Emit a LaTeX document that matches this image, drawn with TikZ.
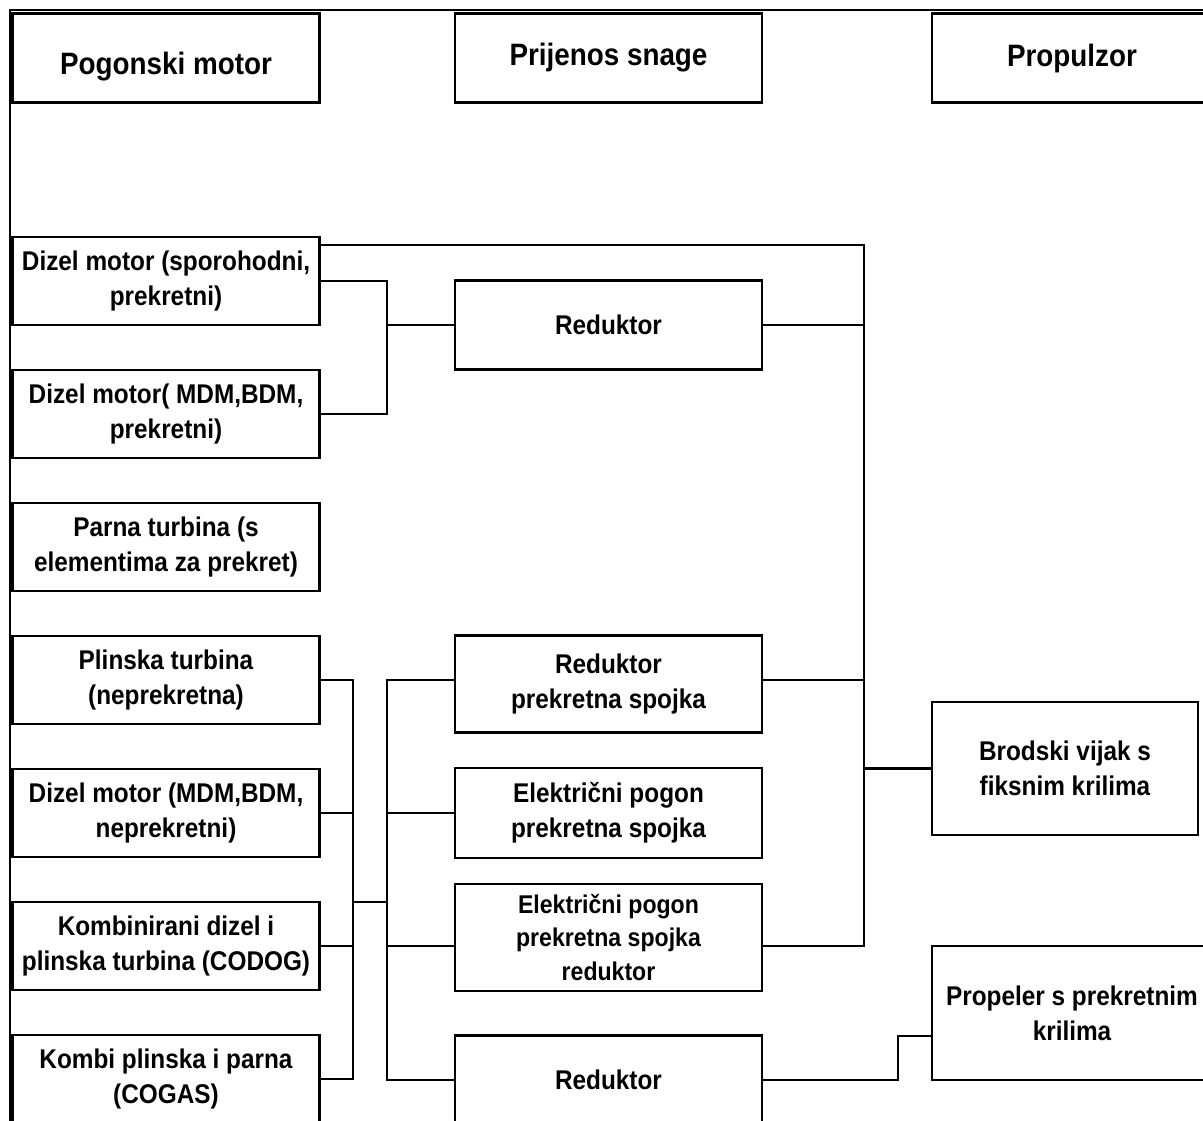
\documentclass[tikz,border=0pt]{standalone}
\usepackage{fontspec}
\newfontfamily\dgfont{Liberation Sans}[FakeStretch=0.9]
\begin{document}
\begin{tikzpicture}[x=0.02cm,y=-0.02cm,
  box/.style={draw, line width=1.4pt, minimum width=6.14cm, minimum height=1.76cm,
    align=center, inner sep=0pt, font=\dgfont\bfseries\fontsize{15.4}{19.8}\selectfont},
  head/.style={box, minimum height=1.78cm, font=\dgfont\bfseries\fontsize{17.6}{21}\selectfont},
  wire/.style={line width=1.3pt}]
\clip (0,0) rectangle (1203,1120);
% frame
\draw[line width=1.2pt] (10,1130) -- (10,10) -- (1215,10);
% headers
\node[head, text height=0.64cm, text depth=0pt] (h1) at (166,58) {Pogonski motor};
\node[head] (h2) at (608.5,58) {Prijenos snage};
\node[head, minimum width=5.6cm] (h3) at (1072,58) {Propulzor};
% engines
\node[box] (d1) at (166,281) {Dizel motor (sporohodni,\\prekretni)};
\node[box] (d2) at (166,414) {Dizel motor( MDM,BDM,\\prekretni)};
\node[box] (d3) at (166,547) {Parna turbina (s\\elementima za prekret)};
\node[box] (d4) at (166,680) {Plinska turbina\\(neprekretna)};
\node[box] (d5) at (166,813) {Dizel motor (MDM,BDM,\\neprekretni)};
\node[box] (d6) at (166,946) {Kombinirani dizel i\\plinska turbina (CODOG)};
\node[box] (d7) at (166,1079) {Kombi plinska i parna\\(COGAS)};
% transmission
\node[box, minimum height=1.78cm] (r1) at (608.5,325) {Reduktor};
\node[box, minimum height=1.94cm] (r2) at (608.5,684) {Reduktor\\prekretna spojka};
\node[box, minimum height=1.8cm] (r3) at (608.5,813) {Električni pogon\\prekretna spojka};
\node[box, minimum height=2.14cm, font=\dgfont\bfseries\fontsize{14.6}{18.8}\selectfont] (r4) at (608.5,937.5) {Električni pogon\\prekretna spojka\\reduktor};
\node[box, minimum height=1.78cm] (r5) at (608.5,1080) {Reduktor};
% propulsors
\node[box, minimum width=5.32cm, minimum height=2.66cm] (p1) at (1065,768.5) {Brodski vijak s\\fiksnim krilima};
\node[box, minimum width=5.6cm, minimum height=2.68cm] (p2) at (1072,1013) {Propeler s prekretnim\\krilima};
% helper coordinates
\coordinate (bx) at (864,0);
\coordinate (j1) at (387,0);
\coordinate (j2) at (353,0);
\coordinate (j3) at (898,0);
\coordinate (yT) at (0,245);
\coordinate (yB) at (0,946);
\coordinate (yM) at (0,902);
\coordinate (yP) at (0,1036);
% right bus
\draw[wire] (d1.east |- yT) -- (bx |- yT) -- (bx |- yB) -- (r4.east |- yB);
\draw[wire] (r1.east) -- (r1.east -| bx);
\draw[wire] (r2.east |- d4.east) -- (bx |- d4.east);
\draw[wire] (bx |- p1.west) -- (p1.west);
% first engine group
\draw[wire] (d1.east) -- (d1.east -| j1) -- (d2.east -| j1) -- (d2.east);
\draw[wire] (r1.west -| j1) -- (r1.west);
% second engine group
\draw[wire] (d4.east) -- (d4.east -| j2) -- (d7.east -| j2) -- (d7.east);
\draw[wire] (d5.east) -- (d5.east -| j2);
\draw[wire] (d6.east) -- (d6.east -| j2);
\draw[wire] (j2 |- yM) -- (j1 |- yM);
\draw[wire] (r2.west |- d4.east) -- (j1 |- d4.east) -- (j1 |- r5.west) -- (r5.west);
\draw[wire] (j1 |- r3.west) -- (r3.west);
\draw[wire] (j1 |- yB) -- (r4.west |- yB);
% propeller
\draw[wire] (r5.east) -- (r5.east -| j3) -- (j3 |- yP) -- (p2.west |- yP);
\end{tikzpicture}
\end{document}
